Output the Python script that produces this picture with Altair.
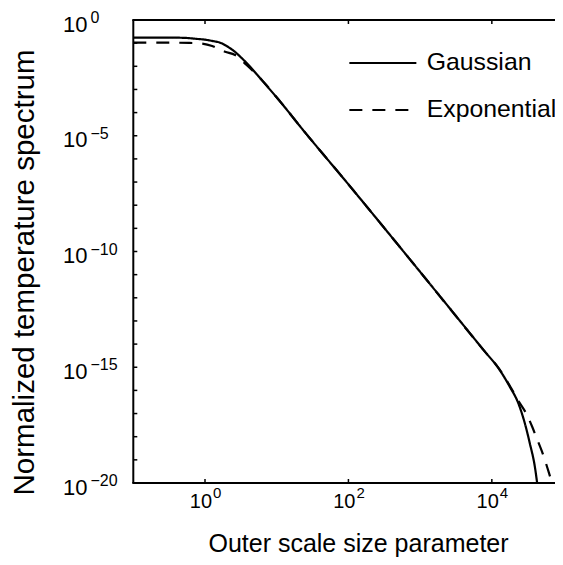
import altair as alt
import pandas as pd

FONT = "Liberation Sans, Arial, Helvetica, sans-serif"

series_names = ["Gaussian", "Exponential"]

# log10 of x and y
gauss_log_x = [-1.0, -0.52, -0.30, -0.10, 0.0, 0.11, 0.21, 0.30, 0.35, 0.40, 0.49,
               0.63, 0.77, 1.05, 1.33, 2.0, 3.0, 3.88, 4.11, 4.25, 4.37, 4.46,
               4.53, 4.60, 4.64]
gauss_log_y = [-0.76, -0.76, -0.77, -0.82, -0.85, -0.91, -0.98, -1.12, -1.22, -1.33, -1.58,
               -2.02, -2.52, -3.53, -4.61, -7.10, -10.88, -14.24, -15.12, -15.84, -16.56, -17.42,
               -18.29, -19.30, -20.2]

expo_log_x = [-1.0, -0.5, -0.22, -0.10, 0.10, 0.28, 0.42, 0.58, 0.77, 1.05, 1.33,
              2.0, 3.0, 3.88, 4.11, 4.25, 4.37, 4.49, 4.56, 4.63, 4.70, 4.76,
              4.81, 4.86]
expo_log_y = [-0.98, -0.98, -0.99, -1.0, -1.12, -1.37, -1.51, -1.94, -2.52, -3.53, -4.61,
              -7.10, -10.88, -14.24, -15.10, -15.80, -16.45, -17.06, -17.55, -18.10, -18.65, -19.20,
              -19.70, -20.2]

x_label_values = [1, 100, 10000]
x_label_exponents = ["0", "2", "4"]
y_label_values = [1, 1e-5, 1e-10, 1e-15, 1e-20]
y_label_exponents = ["0", "\u22125", "\u221210", "\u221215", "\u221220"]
y_tick_exponents = list(range(-19, 0))
x_domain = [0.1, 76000]   # right edge of the picture cuts the axes
y_domain = [1e-20, 1]

rows = []
for name, lxs, lys in [("Gaussian", gauss_log_x, gauss_log_y),
                       ("Exponential", expo_log_x, expo_log_y)]:
    for i, (lx, ly) in enumerate(zip(lxs, lys)):
        rows.append({"series": name, "x": 10 ** lx, "y": 10 ** ly, "order": i})
df = pd.DataFrame(rows)

W, H = 421.7, 463

xscale = alt.Scale(type="log", domain=x_domain, nice=False)
yscale = alt.Scale(type="log", domain=y_domain, nice=False)

xaxis = alt.Axis(
    labels=False, ticks=False, grid=False, domain=False,
    title="Outer scale size parameter", titleFont=FONT, titleFontSize=25,
    titleFontWeight="normal", titleColor="black",
    titleX=224.7, titleY=68, titleBaseline="alphabetic", titleAlign="center")
yaxis = alt.Axis(
    labels=False, ticks=False, grid=False, domain=False,
    title="Normalized temperature spectrum", titleFont=FONT, titleFontSize=29.5,
    titleFontWeight="normal", titleColor="black", titleAngle=270,
    titleX=-99.6, titleY=252, titleBaseline="alphabetic", titleAlign="center")

X = lambda: alt.X("x:Q", scale=xscale, axis=xaxis)
Y = lambda: alt.Y("y:Q", scale=yscale, axis=yaxis)

lines = alt.Chart(df).mark_line(color="black", strokeWidth=2.2, clip=True,
                                interpolate="monotone").encode(
    x=X(),
    y=Y(),
    strokeDash=alt.StrokeDash("series:N", scale=alt.Scale(domain=series_names,
                                                          range=[[1, 0], [13, 10]]),
                              legend=alt.Legend(
                                  orient="none", legendX=259.4, legendY=30.5, title=None,
                                  symbolType="M-5,0H1", symbolSize=499,
                                  symbolStrokeWidth=2.2, symbolStrokeColor="black",
                                  labelFont=FONT, labelFontSize=24.8, labelColor="black",
                                  labelOffset=9, rowPadding=21, padding=0)),
    order="order:Q",
)

ylab_df = pd.DataFrame({"y": y_label_values, "base": ["10"] * len(y_label_values),
                        "exp": y_label_exponents})
xlab_df = pd.DataFrame({"x": x_label_values, "base": ["10"] * len(x_label_values),
                        "exp": x_label_exponents})
ytick_df = pd.DataFrame({"y": [10.0 ** e for e in y_tick_exponents]})
frame_df = pd.DataFrame({"k": [0]})

y_base = alt.Chart(ylab_df).mark_text(align="left", baseline="alphabetic", dy=11.5,
                                      fontSize=22, font=FONT, color="black").encode(
    y=Y(), x=alt.value(-70.3), text="base:N")
y_exp = alt.Chart(ylab_df).mark_text(align="left", baseline="alphabetic", dy=3,
                                     fontSize=16, font=FONT, color="black").encode(
    y=Y(), x=alt.value(-42.8), text="exp:N")

x_base = alt.Chart(xlab_df).mark_text(align="right", baseline="alphabetic", dx=7, dy=25,
                                      fontSize=20, font=FONT, color="black").encode(
    x=X(), y=alt.value(H), text="base:N")
x_exp = alt.Chart(xlab_df).mark_text(align="left", baseline="alphabetic", dx=8, dy=15,
                                     fontSize=15, font=FONT, color="black").encode(
    x=X(), y=alt.value(H), text="exp:N")

y_ticks = alt.Chart(ytick_df).mark_rule(color="black", strokeWidth=1.5).encode(
    y=Y(), x=alt.value(0), x2=alt.value(4))
xb_ticks = alt.Chart(xlab_df).mark_rule(color="black", strokeWidth=1.5).encode(
    x=X(), y=alt.value(H), y2=alt.value(H - 4))
xt_ticks = alt.Chart(xlab_df).mark_rule(color="black", strokeWidth=1.5).encode(
    x=X(), y=alt.value(0), y2=alt.value(4))

frame_left = alt.Chart(frame_df).mark_rule(color="black", strokeWidth=2).encode(
    x=alt.value(0), y=alt.value(0), y2=alt.value(H))
frame_top = alt.Chart(frame_df).mark_rule(color="black", strokeWidth=2).encode(
    y=alt.value(0), x=alt.value(-1), x2=alt.value(W))
frame_bottom = alt.Chart(frame_df).mark_rule(color="black", strokeWidth=2).encode(
    y=alt.value(H), x=alt.value(-1), x2=alt.value(W))

chart = alt.layer(lines, frame_left, frame_top, frame_bottom, y_ticks, xb_ticks, xt_ticks,
                  y_base, y_exp, x_base, x_exp).properties(
    width=W, height=H,
    padding={"left": 125.3, "top": 12, "right": 0, "bottom": 74},
    autosize=alt.AutoSizeParams(type="none"),
).configure_view(stroke="transparent")

chart.save("out.html", embed_options={"renderer": "svg", "actions": False})
